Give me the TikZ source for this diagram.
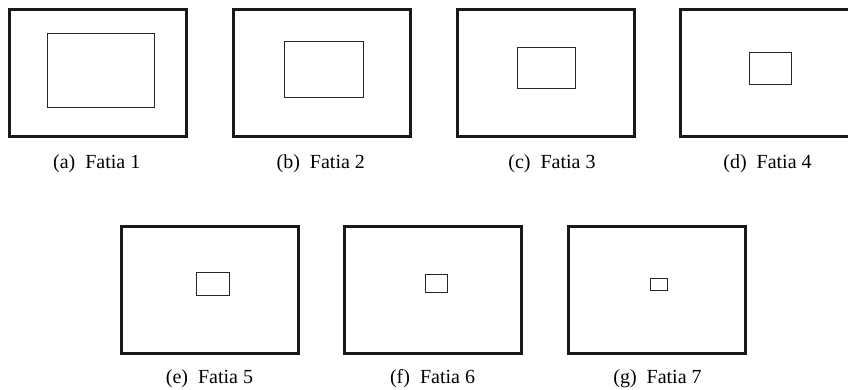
\documentclass[tikz,border=0pt]{standalone}
\usepackage{fontspec}
\setmainfont{Liberation Serif}
\begin{document}
\begin{tikzpicture}[x=1pt,y=-1pt,
  outerbox/.style={draw=black!90,line width=3pt,minimum width=177pt,minimum height=127pt,inner sep=0pt,outer sep=0pt},
  innerbox/.style={draw=black!85,line width=1pt,inner sep=0pt,outer sep=0pt},
  captext/.style={anchor=base,inner sep=0pt,font=\fontsize{20}{24}\selectfont}]
\clip (0,0) rectangle (848,390);
\fill[white] (0,0) rectangle (848,390);
% row 1
\node[outerbox] (A) at (98.4,73.4) {};
\node[innerbox,minimum width=106.7pt,minimum height=73.7pt] (a) at (100.7,70.8) {};
\node[captext] (la) at (96.7,168) {(a)\enspace Fatia 1};
\node[outerbox] (B) at (321.7,73.5) {};
\node[innerbox,minimum width=79pt,minimum height=55.6pt] (b) at (323.5,69.5) {};
\node[captext] (lb) at (320.8,168) {(b)\enspace Fatia 2};
\node[outerbox] (C) at (545.5,73.5) {};
\node[innerbox,minimum width=57.6pt,minimum height=41.4pt] (c) at (546.5,68) {};
\node[captext] (lc) at (552,168) {(c)\enspace Fatia 3};
\node[outerbox] (D) at (768.7,73.5) {};
\node[innerbox,minimum width=42.4pt,minimum height=31.6pt] (d) at (770.5,68.5) {};
\node[captext] (ld) at (767.5,168) {(d)\enspace Fatia 4};
% row 2
\node[outerbox] (E) at (210.3,290) {};
\node[innerbox,minimum width=33pt,minimum height=23pt] (e) at (212.5,284.2) {};
\node[captext] (le) at (209.5,383) {(e)\enspace Fatia 5};
\node[outerbox] (F) at (432.8,290) {};
\node[innerbox,minimum width=22pt,minimum height=17.7pt] (f) at (436,283.8) {};
\node[captext] (lf) at (432.5,383) {(f)\enspace Fatia 6};
\node[outerbox] (G) at (656.7,290) {};
\node[innerbox,minimum width=17.4pt,minimum height=12pt] (g) at (659,284.3) {};
\node[captext] (lg) at (657.5,383) {(g)\enspace Fatia 7};
\end{tikzpicture}
\end{document}
